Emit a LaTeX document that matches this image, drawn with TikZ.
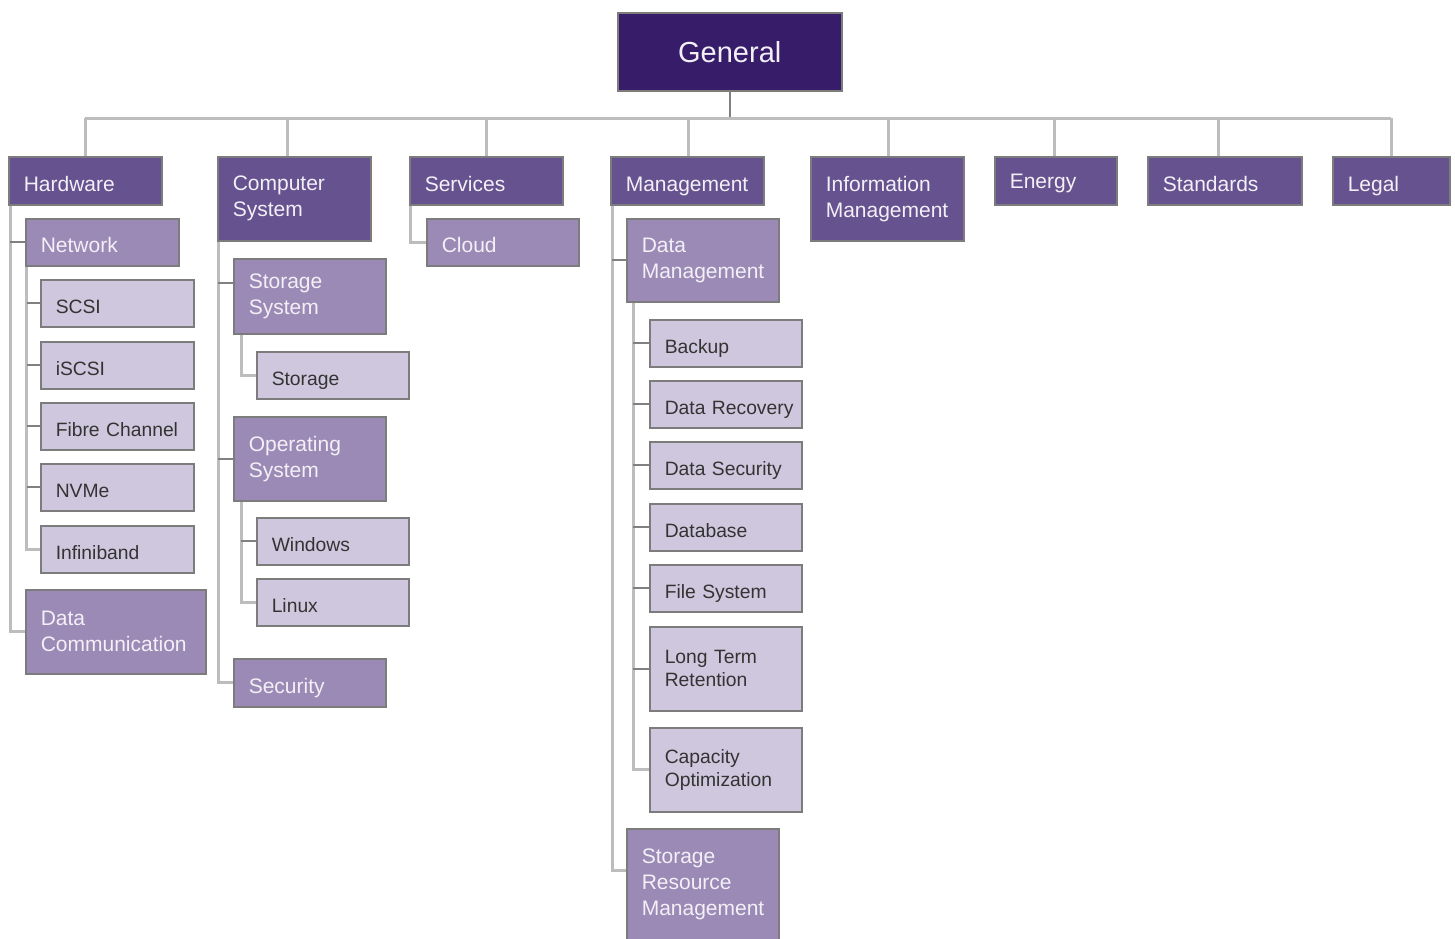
\documentclass[tikz,border=0pt]{standalone}
\usepackage{fontspec}
\setmainfont{Liberation Sans}
\hyphenpenalty=10000
\exhyphenpenalty=10000
\definecolor{gencol}{HTML}{371C69}
\definecolor{lonecol}{HTML}{65528F}
\definecolor{ltwocol}{HTML}{9B8AB6}
\definecolor{lthreecol}{HTML}{CFC7DE}
\definecolor{bordercol}{HTML}{7C7C7C}
\definecolor{linecol}{HTML}{BDBDBD}
\definecolor{tickcol}{HTML}{808080}
\definecolor{darktext}{HTML}{333333}
\definecolor{lighttext}{HTML}{F2F0F6}
\begin{document}
\begin{tikzpicture}[x=1pt,y=-1pt,
  base/.style={draw=bordercol, line width=1.5pt, anchor=north west, inner xsep=15pt, inner ysep=0pt, align=left},
  genbox/.style={base, fill=gencol, text=lighttext, align=center, font=\fontsize{29}{34}\selectfont},
  lone/.style={base, fill=lonecol, text=lighttext, font=\fontsize{21}{26}\selectfont},
  ltwo/.style={base, fill=ltwocol, text=lighttext, font=\fontsize{21}{26}\selectfont},
  lthree/.style={base, fill=lthreecol, text=darktext, font=\fontsize{19.3}{23}\selectfont},
  one/.style={text height=22pt, text depth=1pt},
  conn/.style={draw=linecol, line width=3pt},
  tick/.style={draw=tickcol, line width=2pt},
  stem/.style={draw=tickcol, line width=2.5pt}]
\useasboundingbox (0,0) rectangle (1455,938);
% level 0
\node[genbox, minimum width=224pt, minimum height=78pt, text width=194pt] (gen) at (617,12) {General};
% level 1
\node[lone, one, minimum height=48pt, text width=123pt] (hw) at (8,156) {Hardware};
\node[lone, minimum height=84pt, text width=123pt] (cs) at (217,156) {Computer\\System};
\node[lone, one, minimum height=48pt, text width=123pt] (svc) at (409,156) {Services};
\node[lone, one, minimum height=48pt, text width=123pt] (mgmt) at (610,156) {Management};
\node[lone, minimum height=84pt, text width=123pt] (im) at (810,156) {Information\\Management};
\node[lone, minimum height=48pt, text width=92pt, text height=19pt, text depth=3pt] (energy) at (994,156) {Energy};
\node[lone, one, minimum height=48pt, text width=124pt] (std) at (1147,156) {Standards};
\node[lone, one, minimum height=48pt, text width=87pt] (legal) at (1332,156) {Legal};
% hardware
\node[ltwo, one, minimum height=47pt, text width=123pt] (net) at (25,218) {Network};
\node[lthree, one, minimum height=47pt, text width=123pt] (scsi) at (40,279) {SCSI};
\node[lthree, one, minimum height=47pt, text width=123pt] (iscsi) at (40,341) {iSCSI};
\node[lthree, one, minimum height=47pt, text width=123pt] (fc) at (40,402) {Fibre Channel};
\node[lthree, one, minimum height=47pt, text width=123pt] (nvme) at (40,463) {NVMe};
\node[lthree, one, minimum height=47pt, text width=123pt] (inf) at (40,525) {Infiniband};
\node[ltwo, minimum height=84pt, text width=150pt] (dc) at (25,589) {Data\\Communication};
% computer system
\node[ltwo, minimum height=75pt, text width=122pt] (ss) at (233,258) {Storage\\System};
\node[lthree, one, minimum height=47pt, text width=122pt] (stor) at (256,351) {Storage};
\node[ltwo, minimum height=84pt, text width=122pt] (os) at (233,416) {Operating\\System};
\node[lthree, one, minimum height=47pt, text width=122pt] (win) at (256,517) {Windows};
\node[lthree, one, minimum height=47pt, text width=122pt] (linux) at (256,578) {Linux};
\node[ltwo, one, minimum height=48pt, text width=122pt] (sec) at (233,658) {Security};
% services
\node[ltwo, one, minimum height=47pt, text width=122pt] (cloud) at (426,218) {Cloud};
% management
\node[ltwo, minimum height=83pt, text width=122pt] (dm) at (626,218) {Data\\Management};
\node[lthree, one, minimum height=47pt, text width=122pt] (backup) at (649,319) {Backup};
\node[lthree, one, minimum height=47pt, text width=122pt] (drec) at (649,380) {\mbox{Data Recovery}};
\node[lthree, one, minimum height=47pt, text width=122pt] (dsec) at (649,441) {\mbox{Data Security}};
\node[lthree, one, minimum height=47pt, text width=122pt] (db) at (649,503) {Database};
\node[lthree, one, minimum height=47pt, text width=122pt] (fs) at (649,564) {File System};
\node[lthree, minimum height=84pt, text width=122pt] (ltr) at (649,626) {Long Term\\Retention};
\node[lthree, minimum height=84pt, text width=122pt] (cap) at (649,727) {Capacity\\Optimization};
\node[ltwo, minimum height=112pt, text width=122pt] (srm) at (626,828) {Storage\\Resource\\Management};
% bus
\coordinate (bus) at (0,118);
\draw[stem] (gen.south) -- (gen.south |- bus);
\coordinate (hwt) at (hw.north);
\coordinate (cst) at ([xshift=-6.5pt]cs.north);
\coordinate (svct) at (svc.north);
\coordinate (mgmtt) at ([xshift=1.5pt]mgmt.north);
\coordinate (imt) at ([xshift=1.5pt]im.north);
\coordinate (energyt) at ([xshift=-1pt]energy.north);
\coordinate (stdt) at ([xshift=-6pt]std.north);
\coordinate (legalt) at (legal.north);
\draw[conn] (hwt |- bus) -- (legalt |- bus);
\foreach \n in {hw,cs,svc,mgmt,im,energy,std,legal}{\draw[conn] (\n t |- bus) -- (\n t);}
% hardware tree
\coordinate (hwx) at ([xshift=2pt]hw.south west);
\draw[conn] (hwx) |- (dc.west);
\draw[tick] (hwx |- net.west) -- (net.west);
\coordinate (netx) at ([xshift=1.5pt]net.south west);
\draw[conn] (netx) |- (inf.west);
\foreach \n in {scsi,iscsi,fc,nvme}{\draw[tick] (netx |- \n.west) -- (\n.west);}
% computer system tree
\coordinate (csx) at ([xshift=1pt]cs.south west);
\draw[conn] (csx) |- (sec.west);
\draw[tick] (csx |- os.west) -- (os.west);
\coordinate (ssin) at ([yshift=13.5pt]ss.west);
\draw[tick] (csx |- ssin) -- (ssin);
\coordinate (ssx) at ([xshift=8pt]ss.south west);
\draw[conn] (ssx) |- (stor.west);
\coordinate (osx) at ([xshift=8pt]os.south west);
\draw[conn] (osx) |- (linux.west);
\draw[tick] (osx |- win.west) -- (win.west);
% services tree
\coordinate (svcx) at ([xshift=1pt]svc.south west);
\draw[conn] (svcx) |- (cloud.west);
% management tree
\coordinate (mgx) at ([xshift=2pt]mgmt.south west);
\draw[conn] (mgx) |- ([yshift=14pt]srm.west);
\draw[tick] (mgx |- dm.west) -- (dm.west);
\coordinate (dmx) at ([xshift=7pt]dm.south west);
\draw[conn] (dmx) |- (cap.west);
\foreach \n in {backup,drec,dsec,db,fs,ltr}{\draw[tick] (dmx |- \n.west) -- (\n.west);}
\end{tikzpicture}
\end{document}
